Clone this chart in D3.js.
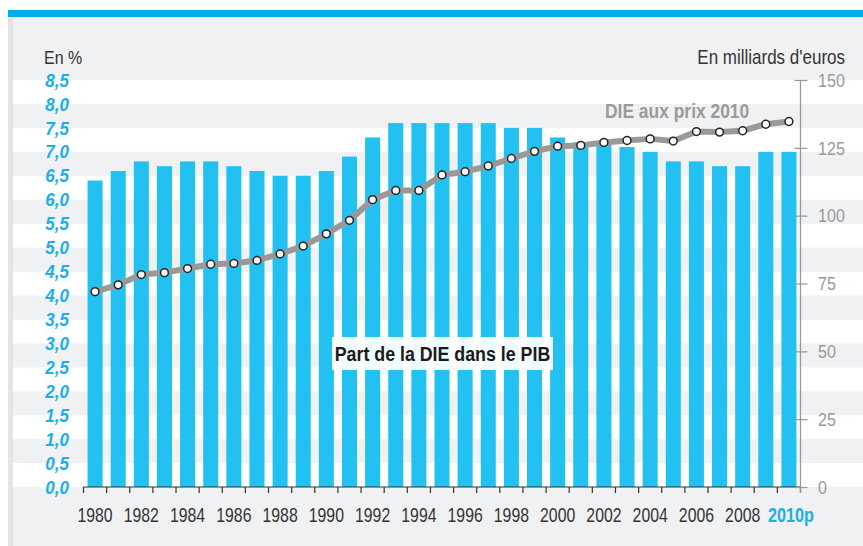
<!DOCTYPE html>
<html><head><meta charset="utf-8">
<script src="https://cdn.jsdelivr.net/npm/d3@7"></script>
<style>
html,body{margin:0;padding:0;background:#fff;}
svg{display:block;}
text{font-family:"Liberation Sans",Arial,sans-serif;}
</style></head>
<body><svg id="c" width="863" height="546"></svg>
<script>
const years = d3.range(1980, 2011);
const yearLabels = ["1980","1982","1984","1986","1988","1990","1992","1994","1996","1998","2000","2002","2004","2006","2008","2010p"];
const partPIB = [6.4,6.6,6.8,6.7,6.8,6.8,6.7,6.6,6.5,6.5,6.6,6.9,7.3,7.6,7.6,7.6,7.6,7.6,7.5,7.5,7.3,7.2,7.2,7.1,7.0,6.8,6.8,6.7,6.7,7.0,7.0];
const dieEuros = [72,74.5,78.3,79,80.5,82.1,82.4,83.5,85.9,88.8,93.3,98.3,105.9,109.3,109.3,115,116.2,118.3,121.1,123.7,125.6,125.9,127,127.7,128.3,127.5,131,130.8,131.3,133.7,134.7];
const leftTicks = [0,0.5,1,1.5,2,2.5,3,3.5,4,4.5,5,5.5,6,6.5,7,7.5,8,8.5];
const rightTicks = [0,25,50,75,100,125,150];

const svg = d3.select("#c");
const W = 863, H = 546;
const x = d3.scaleBand().domain(years).range([83.5, 800.5]).paddingInner(0.35).paddingOuter(0.175);
const yL = d3.scaleLinear().domain([0, 8.5]).range([487, 80]);
const yR = d3.scaleLinear().domain([0, 150]).range([487, 80]);

// condensed text helper
function ctext(g, px, py, str, o) {
  const t = g.append("text")
    .attr("transform", `translate(${px},${py}) scale(${o.sx},1)`)
    .attr("text-anchor", o.anchor || "start")
    .attr("font-size", o.size)
    .attr("font-weight", o.weight || "normal")
    .attr("font-style", o.style || "normal")
    .attr("fill", o.fill)
    .text(str);
  if (o.dy) t.attr("dy", o.dy);
  return t;
}

// background
svg.append("rect").attr("x", 8).attr("y", 17).attr("width", W - 8).attr("height", H - 17).attr("fill", "#f0f1f3");
svg.append("rect").attr("x", 8).attr("y", 17).attr("width", 5).attr("height", H - 17).attr("fill", "#e3e4e7");
svg.append("rect").attr("x", 8).attr("y", 10).attr("width", W - 8).attr("height", 7).attr("fill", "#00aeef");

// bands
const bandIdx = d3.range(0, 17);
svg.append("g").selectAll("rect").data(bandIdx).join("rect")
  .attr("x", 13).attr("width", W - 13)
  .attr("y", d => yL(leftTicks[d + 1]))
  .attr("height", d => yL(leftTicks[d]) - yL(leftTicks[d + 1]))
  .attr("fill", d => d % 2 === 0 ? "#ffffff" : "#f0f1f3");

// bars
svg.append("g").selectAll("rect").data(years).join("rect")
  .attr("x", d => x(d)).attr("width", x.bandwidth())
  .attr("y", (d, i) => yL(partPIB[i]))
  .attr("height", (d, i) => yL(0) - yL(partPIB[i]))
  .attr("fill", "#22c1f2");

// line
const cx = (d, i) => x(years[i]) + x.bandwidth() / 2;
const lineGen = d3.line().x(cx).y(d => yR(d));
svg.append("path").datum(dieEuros).attr("d", lineGen)
  .attr("fill", "none").attr("stroke", "#999999").attr("stroke-width", 6).attr("stroke-linejoin", "round");
svg.append("g").selectAll("circle").data(dieEuros).join("circle")
  .attr("cx", cx).attr("cy", d => yR(d))
  .attr("r", 3.9).attr("fill", "#fff").attr("stroke", "#222").attr("stroke-width", 1.5);

// x axis
const xAxisG = svg.append("g").attr("transform", `translate(0,${yL(0)})`);
xAxisG.append("line").attr("x1", x.range()[0]).attr("x2", x.range()[1]).attr("stroke", "#333").attr("stroke-width", 1.2);
const boundaries = years.map(d => x(d) - x.step() * x.paddingInner() / 2).concat([x.range()[1]]);
xAxisG.selectAll("line.tk").data(boundaries).join("line").attr("class", "tk")
  .attr("x1", d => d).attr("x2", d => d).attr("y1", 0).attr("y2", 6).attr("stroke", "#333").attr("stroke-width", 1.2);
const labelYears = years.filter((d, i) => i % 2 === 0);
labelYears.forEach((d, i) => {
  const last = i === labelYears.length - 1;
  ctext(xAxisG, x(d) + x.bandwidth() / 2 + (last ? 2 : 0), 35, yearLabels[i], {
    sx: last ? 0.81 : 0.79, size: 20, anchor: "middle",
    weight: last ? "bold" : "normal", fill: last ? "#1aaeea" : "#333"
  });
});

// left axis labels
const fmt = d => d.toFixed(1).replace(".", ",");
const lg = svg.append("g");
leftTicks.forEach(v => {
  ctext(lg, 69, yL(v), fmt(v), {sx: 0.92, size: 18.5, anchor: "end", weight: "bold", style: "italic", fill: "#1aaeea", dy: "0.36em"});
});

// right axis
const rightAxis = d3.axisRight(yR).tickValues(rightTicks).tickSize(7).tickPadding(10).tickFormat(d => "");
const rg = svg.append("g").attr("transform", "translate(800.5,0)").call(rightAxis);
rg.select(".domain").remove();
rg.append("line").attr("x1", 0).attr("x2", 0).attr("y1", yR(150)).attr("y2", yR(0) + 6).attr("stroke", "#999").attr("stroke-width", 1.3);
rg.selectAll(".tick line").attr("x1", -6).attr("stroke", "#999").attr("stroke-width", 1.2);
rightTicks.forEach(v => {
  ctext(rg, 17.5, yR(v), String(v), {sx: 0.87, size: 18.5, fill: "#999", dy: "0.36em"});
});

// titles
ctext(svg, 44, 64, "En %", {sx: 0.84, size: 19, fill: "#333"});
ctext(svg, 845, 64, "En milliards d'euros", {sx: 0.85, size: 20, anchor: "end", fill: "#333"});
ctext(svg, 605, 118, "DIE aux prix 2010", {sx: 0.83, size: 21, weight: "bold", fill: "#9a9a9a"});

// series label box
const lbl = svg.append("g");
lbl.append("rect").attr("x", 332).attr("y", 337).attr("width", 221).attr("height", 33).attr("fill", "#ffffff").attr("opacity", 0.93);
ctext(lbl, 442.5, 361, "Part de la DIE dans le PIB", {sx: 0.89, size: 20, anchor: "middle", weight: "bold", fill: "#1a1a1a"});
</script></body></html>
